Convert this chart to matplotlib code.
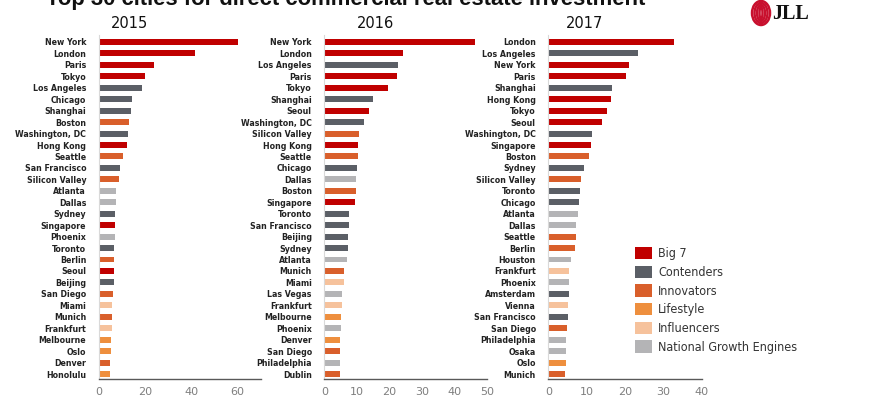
import matplotlib
matplotlib.use("Agg")
import matplotlib.pyplot as plt
from matplotlib import font_manager
from matplotlib.patches import Patch, Ellipse

# ---- data --------------------------------------------------------------
CATEGORIES = ["Big 7", "Contenders", "Innovators", "Lifestyle",
              "Influencers", "National Growth Engines"]
CAT_COLORS = ["#C00000", "#5B5F66", "#D95F2B", "#EE8F3E", "#F6C29C", "#B4B4B6"]

cities_2015 = ["New York", "London", "Paris", "Tokyo", "Los Angeles", "Chicago",
               "Shanghai", "Boston", "Washington, DC", "Hong Kong", "Seattle",
               "San Francisco", "Silicon Valley", "Atlanta", "Dallas", "Sydney",
               "Singapore", "Phoenix", "Toronto", "Berlin", "Seoul", "Beijing",
               "San Diego", "Miami", "Munich", "Frankfurt", "Melbourne", "Oslo",
               "Denver", "Honolulu"]
values_2015 = [60.2, 41.6, 23.9, 20.1, 18.8, 14.2, 13.9, 13.0, 12.7, 12.1, 10.4,
               9.3, 8.9, 7.5, 7.3, 7.2, 7.2, 6.9, 6.8, 6.8, 6.6, 6.5, 6.3, 5.9,
               5.9, 5.6, 5.2, 5.1, 4.9, 4.8]
cats_2015 = [0, 0, 0, 0, 1, 1, 1, 2, 1, 0, 2, 1, 2, 5, 5, 1, 0, 5, 1, 2, 0, 1,
             2, 4, 2, 4, 3, 3, 2, 3]

cities_2016 = ["New York", "London", "Los Angeles", "Paris", "Tokyo", "Shanghai",
               "Seoul", "Washington, DC", "Silicon Valley", "Hong Kong", "Seattle",
               "Chicago", "Dallas", "Boston", "Singapore", "Toronto",
               "San Francisco", "Beijing", "Sydney", "Atlanta", "Munich", "Miami",
               "Las Vegas", "Frankfurt", "Melbourne", "Phoenix", "Denver",
               "San Diego", "Philadelphia", "Dublin"]
values_2016 = [46.5, 24.3, 22.7, 22.5, 19.5, 15.1, 13.7, 12.1, 10.6, 10.4, 10.4,
               10.2, 9.8, 9.8, 9.4, 7.5, 7.5, 7.2, 7.2, 7.0, 6.2, 6.2, 5.5, 5.4,
               5.1, 5.0, 4.9, 4.8, 4.7, 4.7]
cats_2016 = [0, 0, 1, 0, 0, 1, 0, 1, 2, 0, 2, 1, 5, 2, 0, 1, 1, 1, 1, 5, 2, 4,
             5, 4, 3, 5, 3, 2, 5, 2]

cities_2017 = ["London", "Los Angeles", "New York", "Paris", "Shanghai",
               "Hong Kong", "Tokyo", "Seoul", "Washington, DC", "Singapore",
               "Boston", "Sydney", "Silicon Valley", "Toronto", "Chicago",
               "Atlanta", "Dallas", "Seattle", "Berlin", "Houston", "Frankfurt",
               "Phoenix", "Amsterdam", "Vienna", "San Francisco", "San Diego",
               "Philadelphia", "Osaka", "Oslo", "Munich"]
values_2017 = [32.7, 23.3, 20.9, 20.3, 16.7, 16.3, 15.2, 13.9, 11.4, 11.1, 10.6,
               9.3, 8.6, 8.2, 8.1, 7.6, 7.2, 7.2, 7.0, 5.9, 5.5, 5.4, 5.3, 5.2,
               5.1, 4.9, 4.7, 4.6, 4.5, 4.4]
cats_2017 = [0, 1, 0, 0, 1, 0, 0, 0, 1, 0, 2, 1, 2, 1, 1, 5, 5, 2, 2, 5, 4, 5,
             1, 4, 1, 2, 5, 5, 3, 2]

years = ["2015", "2016", "2017"]
x_ticks = [[0, 20, 40, 60], [0, 10, 20, 30, 40, 50], [0, 10, 20, 30, 40]]
x_max = [70, 50, 40]

TITLE = "Top 30 cities for direct commercial real estate investment"

# condensed font for city names / legend
available = {f.name for f in font_manager.fontManager.ttflist}
if "Liberation Sans Narrow" in available:
    NARROW = dict(family="Liberation Sans Narrow")
else:
    NARROW = dict(family="DejaVu Sans", stretch="condensed")

fig = plt.figure(figsize=(8.7, 4.0), dpi=100)
W, H = 870.0, 400.0

# axes boxes in pixel units: (left, width)
boxes = [(98.7, 162.0), (324.3, 162.4), (548.3, 153.7)]
top_px, bot_px = 35.1, 378.6
title_x = [130, 376, 585]

panels = [(cities_2015, values_2015, cats_2015),
          (cities_2016, values_2016, cats_2016),
          (cities_2017, values_2017, cats_2017)]

for i, (cities, vals, cats) in enumerate(panels):
    left, width = boxes[i]
    ax = fig.add_axes([left / W, 1 - bot_px / H, width / W, (bot_px - top_px) / H])
    ypos = list(range(len(cities)))
    ax.barh(ypos, vals, height=0.52, color=[CAT_COLORS[c] for c in cats])
    ax.set_ylim(len(cities) - 0.6, -0.6)
    ax.set_xlim(0, x_max[i])
    ax.set_yticks(ypos)
    ax.set_yticklabels(cities, fontsize=6.3, fontweight="bold", color="#222222",
                       **NARROW)
    ax.set_xticks(x_ticks[i])
    ax.tick_params(axis="x", length=0, labelsize=8, labelcolor="#7F7F7F", pad=6)
    ax.tick_params(axis="y", length=0, pad=9)
    for s in ("top", "right"):
        ax.spines[s].set_visible(False)
    ax.spines["left"].set_color("#D9D9D9")
    ax.spines["left"].set_linewidth(0.8)
    ax.spines["bottom"].set_color("#595959")
    ax.spines["bottom"].set_linewidth(1.0)
    fig.text(title_x[i] / W, 1 - 23 / H, years[i], fontsize=10.5,
             ha="center", va="center", color="#111111")

# headline, cut off at the top edge like the reference
fig.text(46 / W, 1 - 5 / H, TITLE, fontsize=15.8, fontweight="bold",
         family="Liberation Sans", ha="left", va="baseline", color="#111111")

# legend
handles = [Patch(facecolor=c, edgecolor="none") for c in CAT_COLORS]
fig.legend(handles, CATEGORIES, loc="upper left",
           bbox_to_anchor=(630 / W, 1 - 242 / H), frameon=False,
           handlelength=1.35, handleheight=1.15, handletextpad=0.5,
           labelspacing=0.42, borderaxespad=0,
           prop=dict(size=9, **NARROW), labelcolor="#333333")

# JLL logo
for w, h in [(18, 24), (13, 20), (8, 16), (3, 12)]:
    fig.add_artist(Ellipse((761 / W, 1 - 13 / H), w / W, h / H,
                           transform=fig.transFigure, fill=False,
                           edgecolor="#C8102E", linewidth=1.8))
fig.text(772 / W, 1 - 14 / H, "JLL", fontsize=14.5, fontweight="bold",
         family="Liberation Serif", ha="left", va="center", color="#111111")

fig.savefig("out.png", dpi=100)
